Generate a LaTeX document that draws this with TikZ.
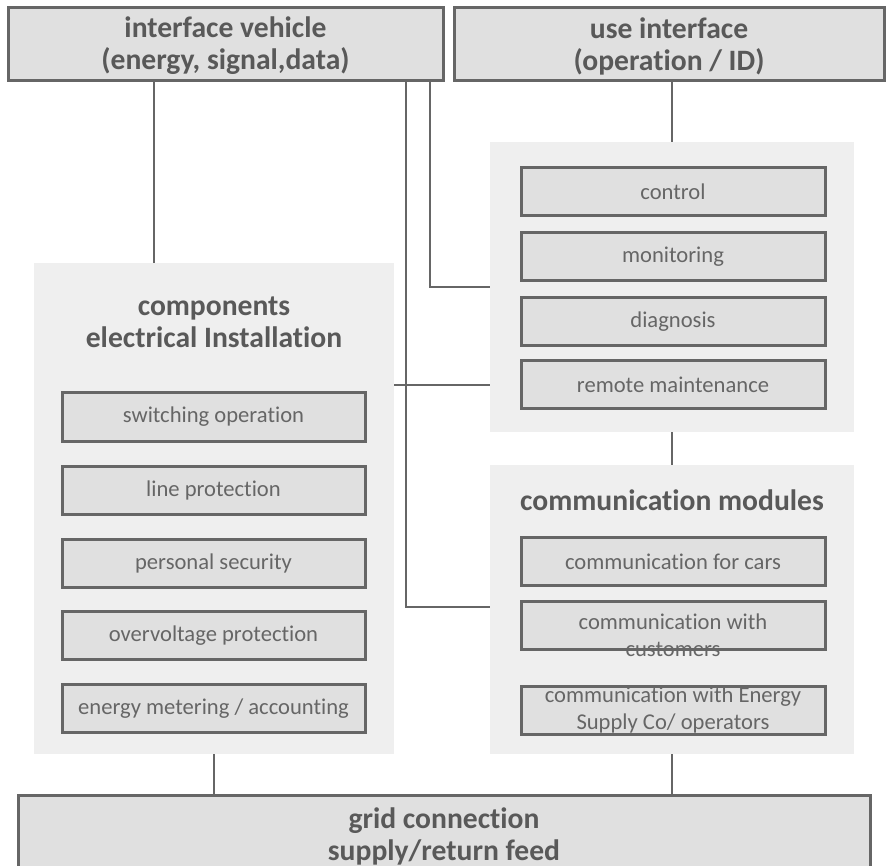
\documentclass[tikz,border=0pt]{standalone}
\usepackage{fontspec}
\setmainfont{Carlito}[Ligatures={NoCommon}]
\definecolor{edge}{HTML}{666666}
\definecolor{boxfill}{HTML}{E0E0E0}
\definecolor{panelfill}{HTML}{EFEFEF}
\definecolor{ink}{HTML}{595959}
\definecolor{itemink}{HTML}{666666}
\begin{document}
\begin{tikzpicture}[x=1pt,y=-1pt,
  headbox/.style={draw=edge,line width=3pt,fill=boxfill,inner sep=0pt},
  panel/.style={fill=panelfill,inner sep=0pt},
  item/.style={draw=edge,line width=3pt,fill=boxfill,inner sep=0pt,
    minimum width=303pt,minimum height=48pt,text=itemink,font=\fontsize{22.6}{27}\selectfont},
  head/.style={text=ink,font=\bfseries\fontsize{29.6}{32}\selectfont,align=center},
  sub/.style={text=itemink,font=\fontsize{22.6}{27}\selectfont,align=center},
  link/.style={draw=edge,line width=2.5pt}]
\useasboundingbox (0,0) rectangle (889,866);
\begin{scope}
\clip (0,0) rectangle (889,866);
% interface boxes on top
\node[headbox,minimum width=435pt,minimum height=73pt] (tl) at (225.5,44.5) {};
\node[head] (tlt) at (225.5,46) {interface vehicle\\(energy, signal,data)};
\node[headbox,minimum width=430pt,minimum height=73pt] (tr) at (669,44.5) {};
\node[head] (trt) at (669,46) {use interface\\(operation / ID)};
% grid connection box at the bottom
\node[headbox,minimum width=852pt,minimum height=90pt] (grid) at (444,840) {};
\node[head] (gridt) at (444,836) {grid connection\\supply/return feed};

% panels
\node[panel,minimum width=360pt,minimum height=491pt] (comp) at (214,508.5) {};
\node[panel,minimum width=364pt,minimum height=290pt] (upper) at (672,287) {};
\node[panel,minimum width=364pt,minimum height=289pt] (comm) at (672,609.5) {};
\node[head] (compt) at (214,322) {components\\electrical Installation};
\node[head] (commt) at (672,500) {communication modules};

% electrical installation items
\node[item] (sw) at (213.5,417) {switching operation};
\node[item] (lp) at (213.5,490) {line protection};
\node[item] (ps) at (213.5,563) {personal security};
\node[item] (ov) at (213.5,635.5) {overvoltage protection};
\node[item] (em) at (213.5,708.5) {energy metering / accounting};

% operation items
\node[item,minimum width=304pt] (ctl) at (673,192) {control};
\node[item,minimum width=304pt] (mon) at (673,257) {monitoring};
\node[item,minimum width=304pt] (dia) at (673,321.5) {diagnosis};
\node[item,minimum width=304pt] (rem) at (673,385) {remote maintenance};

% communication items
\node[item,minimum width=304pt] (cars) at (673,561.5) {communication for cars};
\node[item,minimum width=304pt] (cust) at (673,625.5) {};
\node[sub] (custt) at (673,635) {communication with\\customers};
\node[item,minimum width=304pt] (esc) at (673,710) {};
\node[sub] (esct) at (673,710) {communication with Energy\\Supply Co/ operators};

% connectors
\draw[link] ([xshift=-71.5pt]tl.south) -- ([xshift=-71.5pt]tl.south |- comp.north);
\draw[link] ([xshift=180.5pt]tl.south) |- ([yshift=2.5pt]comm.west);
\draw[link] ([xshift=204.5pt]tl.south) |- (upper.west);
\draw[link] (rem.west -| comp.east) -- (rem.west -| upper.west);
\draw[link] (upper.north |- tr.south) -- (upper.north);
\draw[link] (upper.south) -- (comm.north);
\draw[link] (comp.south) -- (comp.south |- grid.north);
\draw[link] (comm.south) -- (comm.south |- grid.north);
\end{scope}
\end{tikzpicture}
\end{document}
